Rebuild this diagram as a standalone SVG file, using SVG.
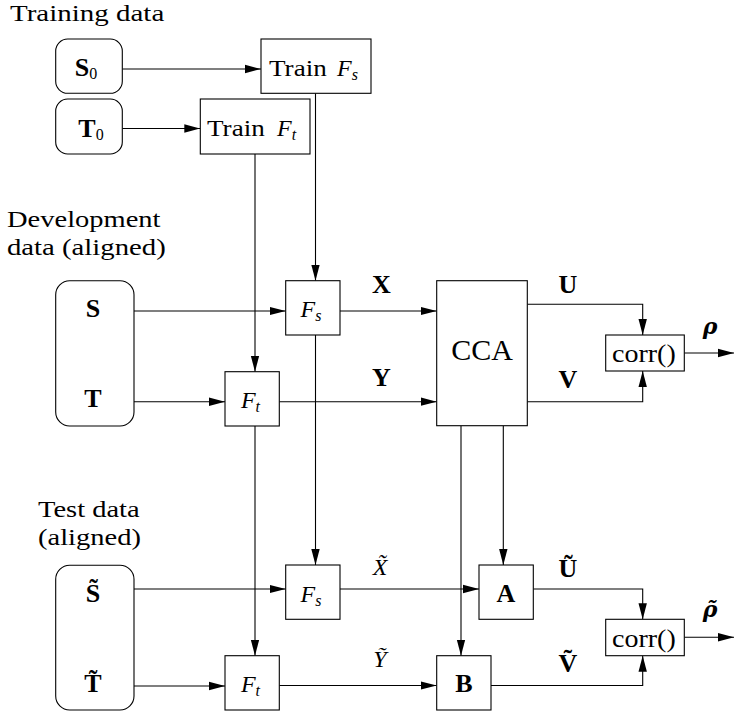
<svg xmlns="http://www.w3.org/2000/svg" width="734" height="713" viewBox="0 0 734 713">
<style>
.box{fill:#fff;stroke:#000;stroke-width:1.1}
.ln{fill:none;stroke:#000;stroke-width:1.1}
.arr{marker-end:url(#ah)}
.dbl{marker-start:url(#sa);marker-end:url(#sa)}
.t{font-family:"Liberation Serif","DejaVu Serif",serif;font-size:23px;fill:#000}
.b{font-weight:bold;font-size:26px}
.i{font-style:italic;font-size:24px}
.n{font-weight:normal;font-style:normal}
.sub{font-size:16px}
.big{font-size:30px}
.cr{font-size:25px}
.g{font-family:"DejaVu Serif","Liberation Serif",serif;font-weight:bold;font-style:italic;font-size:22px}
</style>
<defs>
<marker id="ah" markerUnits="userSpaceOnUse" markerWidth="16" markerHeight="10" refX="16" refY="5" orient="auto"><path d="M0,0.8 L16,5 L0,9.2 z" fill="#000"/></marker>
<marker id="sa" markerUnits="userSpaceOnUse" markerWidth="7" markerHeight="6" refX="7" refY="3" orient="auto-start-reverse"><path d="M0,0.5 L7,3 L0,5.5 z" fill="#000"/></marker>
</defs>
<rect width="734" height="713" fill="#fff"/>

<g id="section-labels">
<text class="t" transform="translate(10,21) scale(1.26,1)">Training data</text>
<text class="t" transform="translate(7,227) scale(1.24,1)">Development</text>
<text class="t" transform="translate(7,255) scale(1.25,1)">data (aligned)</text>
<text class="t" transform="translate(38,517) scale(1.24,1)">Test data</text>
<text class="t" transform="translate(38,545) scale(1.24,1)">(aligned)</text>
</g>

<g id="connectors">
<path class="ln arr" d="M122.3,69 H261"/>
<path class="ln arr" d="M122.3,128.5 H200.3"/>
<path class="ln arr" d="M255,154 V371.7"/>
<path class="ln arr" d="M315.5,93.3 V280.7"/>
<path class="ln arr" d="M134,311 H285.7"/>
<path class="ln arr" d="M134,401.7 H225"/>
<path class="ln arr" d="M340,311 H436.7"/>
<path class="ln arr" d="M279.3,401.7 H436.7"/>
<path class="ln arr" d="M315.5,335 V565"/>
<path class="ln arr" d="M255,426 V655.7"/>
<path class="ln arr" d="M527.3,304.3 H642.7 V335"/>
<path class="ln arr" d="M527.3,401.7 H642.7 V371"/>
<path class="ln arr" d="M684.3,353 H734"/>
<path class="ln arr" d="M461,425.7 V655.7"/>
<path class="ln arr" d="M503.3,425.7 V565"/>
<path class="ln arr" d="M134,589 H285.7"/>
<path class="ln arr" d="M134,686 H225"/>
<path class="ln arr" d="M340,589 H479"/>
<path class="ln arr" d="M279.3,685.5 H436.7"/>
<path class="ln arr" d="M533.3,589 H642.7 V619.3"/>
<path class="ln arr" d="M491,685.5 H642.7 V655.7"/>
<path class="ln arr" d="M684.3,637.3 H734"/>
<path class="ln dbl" d="M92,329 V377"/>
<path class="ln dbl" d="M92,613 V661.7"/>
</g>

<g id="edge-labels">
<text class="t b" x="381.5" y="293" text-anchor="middle">X</text>
<text class="t b" x="381.5" y="386" text-anchor="middle">Y</text>
<text class="t b" x="568" y="293" text-anchor="middle">U</text>
<text class="t b" x="568" y="388" text-anchor="middle">V</text>
<text class="g" x="710" y="334" text-anchor="middle">ρ</text>
<text class="t i" x="380" y="575" text-anchor="middle">X&#x303;</text>
<text class="t i" x="380" y="667" text-anchor="middle">Y&#x303;</text>
<text class="t b" x="568" y="577" text-anchor="middle">U&#x303;</text>
<text class="t b" x="568" y="672" text-anchor="middle">V&#x303;</text>
<text class="g" x="710" y="617" text-anchor="middle">ρ&#x303;</text>
</g>

<g id="S0">
<rect class="box" x="55.7" y="39" width="66.6" height="54.3" rx="12"/>
<text class="t b" x="86" y="76" text-anchor="middle">S<tspan class="n sub" dy="3">0</tspan></text>
</g>
<g id="T0">
<rect class="box" x="55.7" y="99" width="66.6" height="55" rx="12"/>
<text class="t b" x="91" y="137" text-anchor="middle">T<tspan class="n sub" dy="3">0</tspan></text>
</g>
<g id="trainFs">
<rect class="box" x="261" y="39" width="110" height="54.3"/>
<text class="t" transform="translate(269,75.5) scale(1.18,1)">Train</text>
<text class="t i" x="337" y="75.5">F<tspan class="sub" dy="4">s</tspan></text>
</g>
<g id="trainFt">
<rect class="box" x="200.3" y="99" width="109.7" height="55"/>
<text class="t" transform="translate(207,135.5) scale(1.18,1)">Train</text>
<text class="t i" x="277" y="135.5">F<tspan class="sub" dy="4">t</tspan></text>
</g>

<g id="dev-data">
<rect class="box" x="55.7" y="280.7" width="78.3" height="145.3" rx="14"/>
<text class="t b" x="93" y="317" text-anchor="middle">S</text>
<text class="t b" x="93" y="407" text-anchor="middle">T</text>
</g>
<g id="dev-Fs">
<rect class="box" x="285.7" y="280.7" width="54.3" height="54.3"/>
<text class="t i" x="311" y="317" text-anchor="middle">F<tspan class="sub" dy="4">s</tspan></text>
</g>
<g id="dev-Ft">
<rect class="box" x="225" y="371.7" width="54.3" height="54.3"/>
<text class="t i" x="250.5" y="408" text-anchor="middle">F<tspan class="sub" dy="4">t</tspan></text>
</g>
<g id="CCA">
<rect class="box" x="436.7" y="280.7" width="90.6" height="145"/>
<text class="t big" x="482" y="360" text-anchor="middle">CCA</text>
</g>
<g id="corr-dev">
<rect class="box" x="605.7" y="335" width="78.6" height="36"/>
<text class="t cr" transform="translate(612,362) scale(1.12,1)">corr()</text>
</g>

<g id="test-data">
<rect class="box" x="55.7" y="565.3" width="78.3" height="144.7" rx="14"/>
<text class="t b" x="93" y="601.7" text-anchor="middle">S&#x303;</text>
<text class="t b" x="93" y="691.7" text-anchor="middle">T&#x303;</text>
</g>
<g id="test-Fs">
<rect class="box" x="285.7" y="565" width="54.3" height="54.3"/>
<text class="t i" x="311" y="601.5" text-anchor="middle">F<tspan class="sub" dy="4">s</tspan></text>
</g>
<g id="test-Ft">
<rect class="box" x="225" y="655.7" width="54.3" height="54.3"/>
<text class="t i" x="250.5" y="692" text-anchor="middle">F<tspan class="sub" dy="4">t</tspan></text>
</g>
<g id="A">
<rect class="box" x="479" y="565" width="54.3" height="54.3"/>
<text class="t b" x="506" y="601.5" text-anchor="middle">A</text>
</g>
<g id="B">
<rect class="box" x="436.7" y="655.7" width="54.3" height="54.3"/>
<text class="t b" x="464" y="691.7" text-anchor="middle">B</text>
</g>
<g id="corr-test">
<rect class="box" x="605.7" y="619.3" width="78.6" height="36.4"/>
<text class="t cr" transform="translate(612,646.5) scale(1.12,1)">corr()</text>
</g>
</svg>
